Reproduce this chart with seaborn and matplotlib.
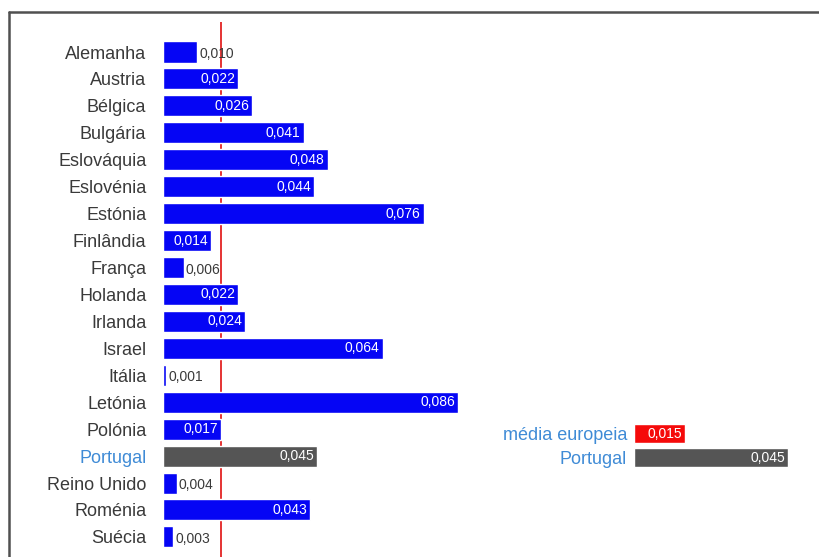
import matplotlib
matplotlib.use('Agg')
import matplotlib.pyplot as plt
import seaborn as sns
from matplotlib.lines import Line2D

# dados
paises = ['Alemanha', 'Austria', 'Bélgica', 'Bulgária', 'Eslováquia', 'Eslovénia',
          'Estónia', 'Finlândia', 'França', 'Holanda', 'Irlanda', 'Israel', 'Itália',
          'Letónia', 'Polónia', 'Portugal', 'Reino Unido', 'Roménia', 'Suécia']
valores = [0.010, 0.022, 0.026, 0.041, 0.048, 0.044, 0.076, 0.014, 0.006, 0.022,
           0.024, 0.064, 0.001, 0.086, 0.017, 0.045, 0.004, 0.043, 0.003]
linha_media = 0.017

resumo_nomes = ['média europeia', 'Portugal']
resumo_valores = [0.015, 0.045]

azul = '#0505f5'
cinza = '#555555'
vermelho = '#f50a0a'
azul_texto = '#3f8bd6'
texto = '#3a3a3a'

sns.set_style('white')
plt.rcParams['font.family'] = ['Liberation Sans', 'DejaVu Sans']

W, H = 819, 557
fig = plt.figure(figsize=(W / 100, H / 100), dpi=100)

# grafico principal
escala = 3430.0
ax = fig.add_axes([163 / W, 0, 0.09 * escala / W, (H - 22) / H])
cores = [cinza if p == 'Portugal' else azul for p in paises]
sns.barplot(x=valores, y=paises, hue=paises, palette=cores, width=0.78,
            legend=False, orient='h', ax=ax, saturation=1)
ax.set_xlim(0, 0.09)
ax.set_ylim((H - 52) / 26.94, -30 / 26.94)
ax.axvline(linha_media, color='#e01010', lw=1.2, zorder=0.5)

for i, v in enumerate(valores):
    rot = f'{v:.3f}'.replace('.', ',')
    if v >= 0.014:
        ax.text(v - 0.0009, i, rot, ha='right', va='center', color='white', fontsize=10)
    else:
        ax.text(v + 0.0005, i + 0.08, rot, ha='left', va='center', color=texto, fontsize=10)

ax.set_xlabel('')
ax.set_ylabel('')
ax.set_xticks([])
ax.tick_params(axis='y', length=0, pad=12, labelsize=13, labelcolor=texto)
for lab in ax.get_yticklabels():
    if lab.get_text() == 'Portugal':
        lab.set_color(azul_texto)
sns.despine(ax=ax, left=True, bottom=True)
ax.patch.set_alpha(0)

# grafico resumo
ax2 = fig.add_axes([634 / W, (H - 469.5) / H, 0.05 * escala / W, 48 / H])
sns.barplot(x=resumo_valores, y=resumo_nomes, hue=resumo_nomes,
            palette=[vermelho, cinza], width=0.83, legend=False, orient='h',
            ax=ax2, saturation=1)
ax2.set_xlim(0, 0.05)
ax2.set_ylim(1.5, -0.5)
for i, v in enumerate(resumo_valores):
    rot = f'{v:.3f}'.replace('.', ',')
    ax2.text(v - 0.0009, i, rot, ha='right', va='center', color='white', fontsize=10)
ax2.set_xlabel('')
ax2.set_ylabel('')
ax2.set_xticks([])
ax2.tick_params(axis='y', length=0, pad=5, labelsize=13, labelcolor=azul_texto)
sns.despine(ax=ax2, left=True, bottom=True)
ax2.patch.set_alpha(0)

# moldura
fig.add_artist(Line2D([9 / W, 9 / W], [0, 1 - 11.5 / H], color='#505050', lw=1.8))
fig.add_artist(Line2D([9 / W, 1], [1 - 11.5 / H, 1 - 11.5 / H], color='#505050', lw=1.8))

fig.savefig('out.png', dpi=100)
